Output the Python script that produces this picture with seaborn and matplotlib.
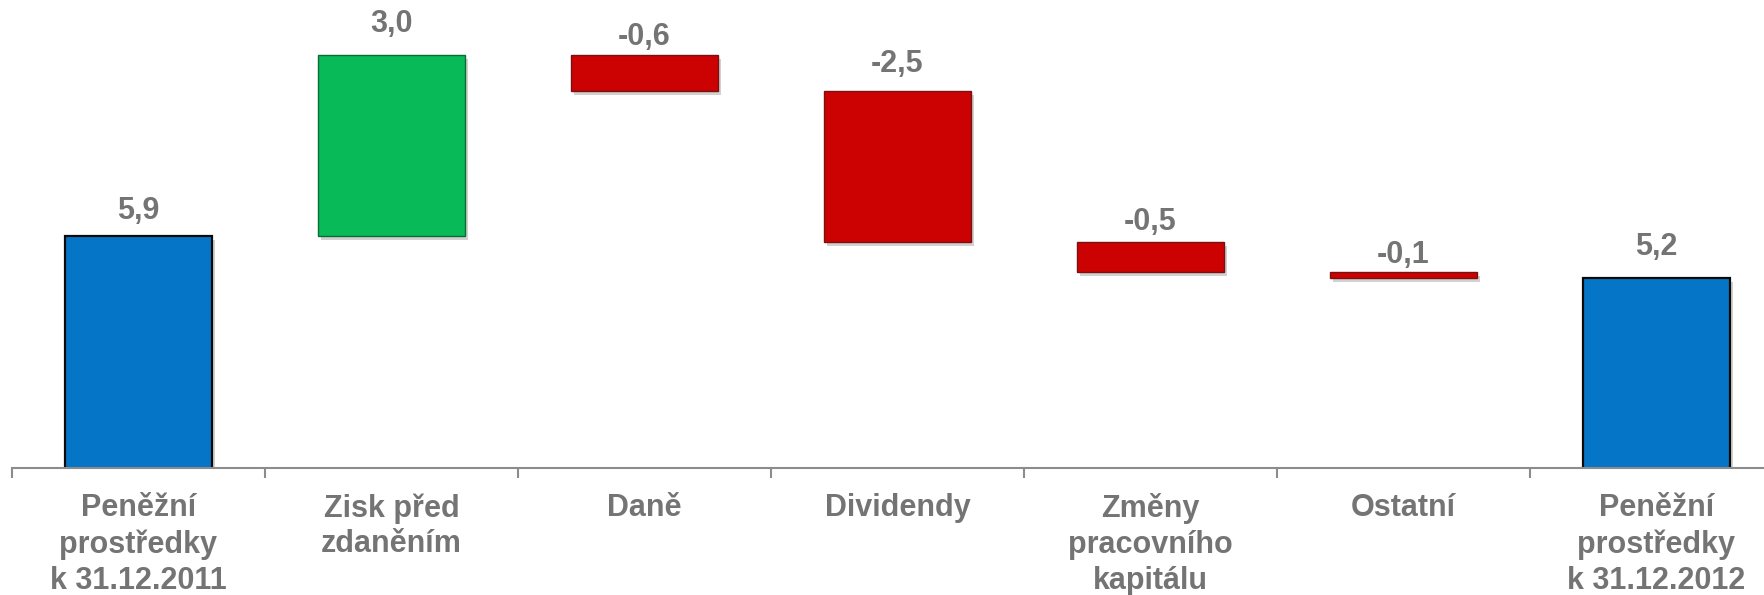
import numpy as np
import pandas as pd
import seaborn as sns
import matplotlib.pyplot as plt
import matplotlib.patheffects as pe

# data
categories = ["Peněžní\nprostředky\nk 31.12.2011", "Zisk před\nzdaněním", "Daně",
              "Dividendy", "Změny\npracovního\nkapitálu", "Ostatní",
              "Peněžní\nprostředky\nk 31.12.2012"]
values = [5.9, 3.0, -0.6, -2.5, -0.5, -0.1, 5.2]
kinds = ["total", "up", "down", "down", "down", "down", "total"]
value_labels = ["5,9", "3,0", "-0,6", "-2,5", "-0,5", "-0,1", "5,2"]

# waterfall bottoms
bottoms = []
running = 0.0
for v, k in zip(values, kinds):
    if k == "total":
        bottoms.append(0.0)
        running = v
    else:
        bottoms.append(running)
        running += v
tops = [b + v for b, v in zip(bottoms, values)]

fill = {"total": "#0575C8", "up": "#08BB58", "down": "#CC0202"}
edge = {"total": "#0A0A0A", "up": "#0B6B34", "down": "#7A1010"}
label_pad = [10, 16, 3, 12, 5, 2, 16]  # px above bar top

sns.set_style("white")
plt.rcParams["font.family"] = ["Liberation Sans", "DejaVu Sans"]

W, H = 1765, 595
fig = plt.figure(figsize=(W / 100, H / 100), dpi=100)
step = 253.0
left_px = 12
axis_y = 468
ax = fig.add_axes([left_px / W, (H - axis_y) / H, 7 * step / W, axis_y / H])

df = pd.DataFrame({"cat": categories, "val": values})
sns.barplot(data=df, x="cat", y="val", order=categories, bottom=bottoms,
            width=0.58, ax=ax, color="#0575C8", saturation=1, linewidth=0)

for p, k in zip(ax.patches, kinds):
    p.set_facecolor(fill[k])
    p.set_edgecolor(edge[k])
    p.set_linewidth(1.6 if k == "total" else 1.0)
    p.set_path_effects([pe.SimplePatchShadow(offset=(2, -3), alpha=0.18, shadow_rgbFace="#000000"),
                        pe.Normal()])

ybot = 2.05
k_px = 60.3
ax.set_xlim(-0.5, 6.5)
ax.set_ylim(ybot, ybot + axis_y / k_px)

text_col = "#747474"
for i, (t, lab) in enumerate(zip(tops, value_labels)):
    top = max(t, bottoms[i]) if kinds[i] != "total" else t
    ax.annotate(lab, (i, top), xytext=(0, label_pad[i] * 0.72), textcoords="offset points",
                ha="center", va="bottom", fontsize=22, fontweight="bold", color=text_col)

for s in ["top", "right", "left"]:
    ax.spines[s].set_visible(False)
ax.spines["bottom"].set_color("#8C8C8C")
ax.spines["bottom"].set_linewidth(1.5)
ax.set_yticks([])
ax.set_xlabel("")
ax.set_ylabel("")

ax.set_xticks(np.arange(-0.5, 7.0, 1.0))
ax.set_xticklabels([])
ax.tick_params(axis="x", which="major", length=7, width=1.5, color="#8C8C8C", direction="out", bottom=True)
ax.set_xticks(np.arange(7), minor=True)
ax.set_xticklabels(categories, minor=True, fontsize=22, fontweight="bold", color=text_col,
                   linespacing=1.26)
ax.tick_params(axis="x", which="minor", length=0, pad=18)

fig.savefig("out.png", dpi=100)
